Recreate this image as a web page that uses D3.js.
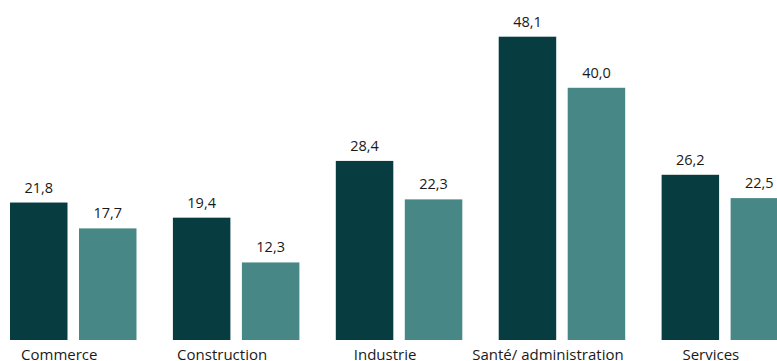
<!DOCTYPE html>
<html>
<head>
<meta charset="utf-8">
<script src="https://cdn.jsdelivr.net/npm/d3@7"></script>
<style>
  html, body { margin: 0; padding: 0; background: #ffffff; }
  svg { display: block; }
  text { font-family: "Open Sans", "Noto Sans", sans-serif; fill: #1a1a1a; }
</style>
</head>
<body>
<svg id="chart" width="777" height="361"></svg>
<script>
const categories = ["Commerce", "Construction", "Industrie", "Santé/ administration", "Services"];
const seriesNames = ["Série 1", "Série 2"];
const series1 = [21.8, 19.4, 28.4, 48.1, 26.2];
const series2 = [17.7, 12.3, 22.3, 40.0, 22.5];
const colors = ["#073d41", "#478886"];

const data = categories.map((c, i) => ({ cat: c, values: [series1[i], series2[i]] }));

const svg = d3.select("#chart");
const baseY = 340;
const topY = 36.7;

const y = d3.scaleLinear().domain([0, 48.1]).range([baseY, topY]);

const x0 = d3.scaleBand()
  .domain(categories)
  .range([10, 788.1])
  .paddingInner(0.2235)
  .paddingOuter(0);

const x1 = d3.scaleBand()
  .domain(seriesNames)
  .range([0, x0.bandwidth()])
  .paddingInner(0.1667)
  .paddingOuter(0);

const fmt = v => d3.format(".1f")(v).replace(".", ",");

const groups = svg.selectAll("g.group")
  .data(data)
  .enter().append("g")
  .attr("class", "group")
  .attr("transform", d => `translate(${x0(d.cat)},0)`);

groups.selectAll("rect")
  .data(d => d.values.map((v, j) => ({ v, s: seriesNames[j], j })))
  .enter().append("rect")
  .attr("x", d => x1(d.s))
  .attr("y", d => y(d.v))
  .attr("width", x1.bandwidth())
  .attr("height", d => baseY - y(d.v))
  .attr("fill", d => colors[d.j]);

groups.selectAll("text.val")
  .data(d => d.values.map((v, j) => ({ v, s: seriesNames[j], j })))
  .enter().append("text")
  .attr("class", "val")
  .attr("x", d => x1(d.s) + x1.bandwidth() / 2)
  .attr("y", d => y(d.v) - 10)
  .attr("text-anchor", "middle")
  .attr("font-size", 14.5)
  .text(d => fmt(d.v));

groups.append("text")
  .attr("class", "cat")
  .attr("x", x0.bandwidth() / 2 - 14)
  .attr("y", 359.5)
  .attr("text-anchor", "middle")
  .attr("font-size", 15)
  .text(d => d.cat);
</script>
</body>
</html>
